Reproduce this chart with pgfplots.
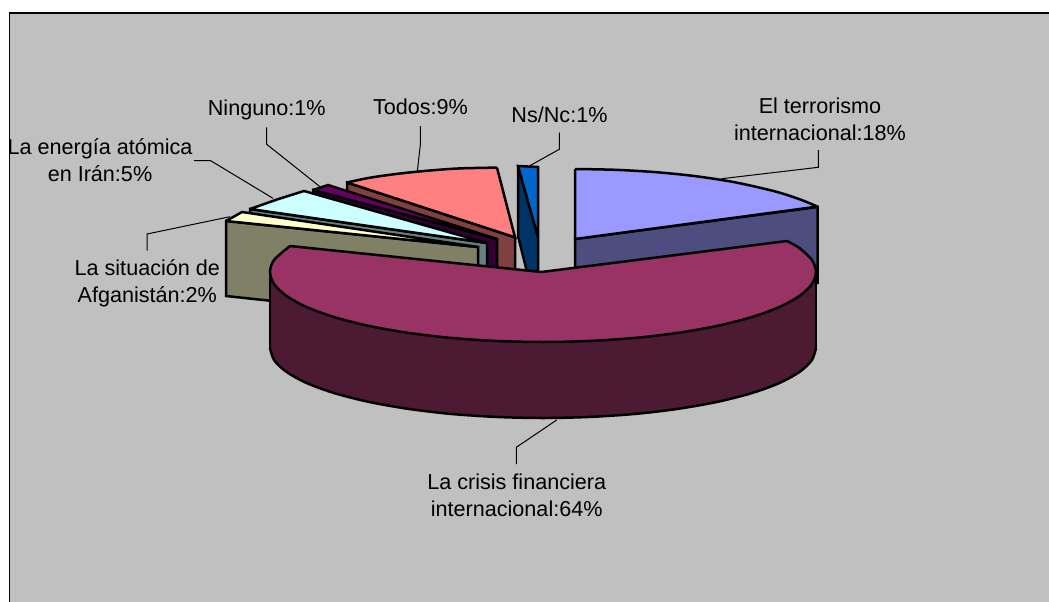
\documentclass[border=0pt]{standalone}
\usepackage{pgfplots}
\pgfplotsset{compat=1.18}
\usepackage{fontspec}
\setmainfont{Liberation Sans}
\definecolor{plotbg}{HTML}{C0C0C0}
\definecolor{terrtop}{HTML}{9999FF}
\definecolor{terrside}{HTML}{4D4D80}
\definecolor{critop}{HTML}{993366}
\definecolor{criside}{HTML}{4D1A33}
\definecolor{afgtop}{HTML}{FFFFCC}
\definecolor{afgside}{HTML}{808066}
\definecolor{irantop}{HTML}{CCFFFF}
\definecolor{iranside}{HTML}{668080}
\definecolor{ningtop}{HTML}{660066}
\definecolor{ningside}{HTML}{330033}
\definecolor{todtop}{HTML}{FF8080}
\definecolor{todside}{HTML}{804040}
\definecolor{nstop}{HTML}{0066CC}
\definecolor{nsside}{HTML}{003366}
\tikzset{
  edge/.style={draw=black, line width=2.5bp, miter limit=2.5},
  leader/.style={draw=black, line width=1bp},
  lab/.style={anchor=center, align=center, inner sep=0pt, text=black,
    font=\fontsize{21.6bp}{26.8bp}\selectfont},
}
\begin{document}
\begin{tikzpicture}
\begin{axis}[
    scale only axis, width=1049bp, height=601bp,
    xmin=0, xmax=1049, ymin=0, ymax=601,
    y dir=reverse, hide axis]
  % background, plot area
  \addplot[fill=white, draw=none] coordinates {(0,0) (1049,0) (1049,601) (0,601)} --cycle;
  \addplot[fill=plotbg, draw=black, line width=1.6bp] coordinates {(9.3,13) (1060,13) (1060,620) (9.3,620)} --cycle;

  % terrorismo 18%
  \addplot[edge, fill=terrside] coordinates {(575,239) (817.5,207) (817.5,283) (575,315)} --cycle;
  \addplot[draw=none, fill=terrtop] coordinates {(575,169) (615,169.8) (655,172.1) (695,176.1) (735,182.3) (775,191.4) (800,199.4) (817.5,206.6) (575,239)} --cycle;
  \addplot[edge, smooth] coordinates {(575,169) (615,169.8) (655,172.1) (695,176.1) (735,182.3) (775,191.4) (800,199.4) (817.5,206.6)};
  \addplot[edge] coordinates {(575,169) (575,239) (817.5,206.6)};

  % ns/nc 1%
  \addplot[edge, fill=nsside] coordinates {(518,166) (518,236) (527,272) (538,272) (538,237)} --cycle;
  \addplot[edge, fill=nstop] coordinates {(518,166) (538,167) (538,237)} --cycle;

  % todos 9%
  \addplot[edge, fill=todside] coordinates {(347,182.5) (347,259) (515,313) (515,237.3)} --cycle;
  \addplot[draw=none, fill=todtop] coordinates {(347,182.5) (370,177.7) (400,173.5) (430,170.5) (460,168.4) (497,167.6) (515,237.3)} --cycle;
  \addplot[edge, smooth] coordinates {(347,182.5) (370,177.7) (400,173.5) (430,170.5) (460,168.4) (497,167.6)};
  \addplot[edge] coordinates {(497,167.6) (515,237.3) (347,182.5)};

  % ninguno 1%
  \addplot[edge, fill=ningside] coordinates {(313,190) (313,262) (497,312) (497,239)} --cycle;
  \addplot[edge, fill=ningtop] coordinates {(313,190) (328,185) (497,239)} --cycle;

  % energia atomica 5%
  \addplot[edge, fill=iranside] coordinates {(250,209) (250,280) (487,315) (487,243)} --cycle;
  \addplot[edge, fill=irantop] coordinates {(250,209) (277,199.5) (304,191) (487,243)} --cycle;

  % afganistan 2%
  \addplot[edge, fill=afgside] coordinates {(226,221) (226,296) (478,323) (478,247)} --cycle;
  \addplot[edge, fill=afgtop] coordinates {(226,221) (242,212) (478,247)} --cycle;

  % crisis financiera 64%: side, then top
  \addplot[draw=none, fill=criside] coordinates {(816,272) (816,348) (811.8,360.2) (799.5,371.9) (779.4,383) (752.1,393) (718.5,401.6) (679.5,408.6) (636.4,413.8) (590.4,416.9) (543,418) (495.6,416.9) (449.6,413.8) (406.5,408.6) (367.5,401.6) (333.9,393) (306.6,383) (286.5,371.9) (274.2,360.2) (270,348) (270,272) (543,342)} --cycle;
  \addplot[edge, smooth] coordinates {(816,348) (811.8,360.2) (799.5,371.9) (779.4,383) (752.1,393) (718.5,401.6) (679.5,408.6) (636.4,413.8) (590.4,416.9) (543,418) (495.6,416.9) (449.6,413.8) (406.5,408.6) (367.5,401.6) (333.9,393) (306.6,383) (286.5,371.9) (274.2,360.2) (270,348)};
  \addplot[edge] coordinates {(270,272) (270,348)};
  \addplot[edge] coordinates {(816,272) (816,348)};
  \addplot[draw=none, fill=critop] coordinates {(541.5,272) (787,241) (799.5,248.1) (811.8,259.8) (816,272) (811.8,284.2) (799.5,295.9) (779.4,307) (752.1,317) (718.5,325.6) (679.5,332.6) (636.4,337.8) (590.4,340.9) (543,342) (495.6,340.9) (449.6,337.8) (406.5,332.6) (367.5,325.6) (333.9,317) (306.6,307) (286.5,295.9) (274.2,284.2) (270,272) (274.2,259.8) (290,246)} --cycle;
  \addplot[edge, smooth] coordinates {(787,241) (799.5,248.1) (811.8,259.8) (816,272) (811.8,284.2) (799.5,295.9) (779.4,307) (752.1,317) (718.5,325.6) (679.5,332.6) (636.4,337.8) (590.4,340.9) (543,342) (495.6,340.9) (449.6,337.8) (406.5,332.6) (367.5,325.6) (333.9,317) (306.6,307) (286.5,295.9) (274.2,284.2) (270,272) (274.2,259.8) (290,246)};
  \addplot[edge] coordinates {(290,246) (541.5,272) (787,241)};

  % leader lines
  \addplot[leader] coordinates {(818.3,150) (818.3,167.3) (721.7,178.7)};
  \addplot[leader] coordinates {(559.3,132.7) (559.3,149.3) (529.3,166)};
  \addplot[leader] coordinates {(420.3,126) (420.3,145) (417.3,171.7)};
  \addplot[leader] coordinates {(266.7,127.3) (266.7,144.3) (320,186.7)};
  \addplot[leader] coordinates {(194,160.7) (210.7,160.7) (273,198.3)};
  \addplot[leader] coordinates {(147,250.7) (147,234) (230,216.7)};
  \addplot[leader] coordinates {(516.3,464) (516.3,447.3) (556.7,420)};

  % labels
  \node[lab] at (axis cs:820,119) {El terrorismo\\internacional:18\%};
  \node[lab] at (axis cs:559.5,115) {Ns/Nc:1\%};
  \node[lab] at (axis cs:420.5,107) {Todos:9\%};
  \node[lab] at (axis cs:266.7,110) {Ninguno:1\%};
  \node[lab] at (axis cs:100,160) {La energía atómica\\en Irán:5\%};
  \node[lab] at (axis cs:147.3,283.5) {La situación de\\Afganistán:2\%};
  \node[lab] at (axis cs:516.7,495) {La crisis financiera\\internacional:64\%};
\end{axis}
\end{tikzpicture}
\end{document}
